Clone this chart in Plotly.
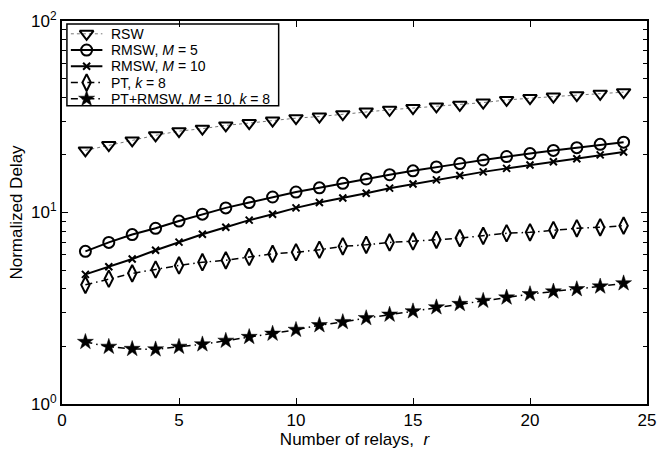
import plotly.graph_objects as go

# Number of relays
relays = list(range(1, 25))

# Normalized delay per scheme
rsw = [21.1, 22.5, 23.8, 25.3, 26.6, 27.4, 28.5, 29.3, 30.2, 31.1, 31.7, 32.6,
       33.7, 34.4, 35.1, 35.8, 36.5, 37.5, 38.7, 39.6, 40.3, 41.0, 41.7, 42.5]
rmsw_m5 = [6.27, 6.98, 7.67, 8.27, 9.02, 9.80, 10.57, 11.27, 12.05, 12.79, 13.45, 14.2,
           14.97, 15.75, 16.5, 17.3, 18.0, 18.8, 19.6, 20.3, 21.1, 21.8, 22.7, 23.3]
rmsw_m10 = [4.75, 5.21, 5.72, 6.35, 7.0, 7.7, 8.37, 9.12, 9.8, 10.57, 11.27, 11.9,
            12.6, 13.4, 14.1, 14.8, 15.6, 16.3, 17.0, 17.7, 18.4, 19.1, 20.0, 20.7]
pt_k8 = [4.19, 4.51, 4.81, 5.04, 5.29, 5.5, 5.63, 5.86, 6.08, 6.2, 6.39, 6.66,
         6.78, 6.98, 7.06, 7.2, 7.35, 7.55, 7.79, 7.88, 8.1, 8.27, 8.37, 8.54]
pt_rmsw = [2.11, 1.99, 1.94, 1.93, 1.99, 2.05, 2.14, 2.24, 2.33, 2.44, 2.58, 2.68,
           2.81, 2.93, 3.05, 3.2, 3.33, 3.46, 3.6, 3.75, 3.87, 3.98, 4.11, 4.27]

names = ["RSW", "RMSW, <i>M</i> = 5", "RMSW, <i>M</i> = 10", "PT, <i>k</i> = 8",
         "PT+RMSW, <i>M</i> = 10, <i>k</i> = 8"]

y_tickvals = [1, 10, 100]
y_ticktext = ["10<sup>0</sup>", "10<sup>1</sup>", "10<sup>2</sup>"]
y_minor = [2, 3, 4, 5, 6, 7, 8, 9, 20, 30, 40, 50, 60, 70, 80, 90]
x_tickvals = [0, 5, 10, 15, 20, 25]

dashdot = "7px,4px,1.5px,4px"

# Line and marker style of each series (same order as names)
styles = [
    dict(line=dict(color="#777777", width=1, dash="dot"),
         marker=dict(symbol="triangle-down-open", size=12, color="black",
                     line=dict(color="black", width=2))),
    dict(line=dict(color="black", width=2),
         marker=dict(symbol="circle-open", size=11, color="black",
                     line=dict(color="black", width=2))),
    dict(line=dict(color="black", width=2),
         marker=dict(symbol="x-thin-open", size=7, color="black",
                     line=dict(color="black", width=2))),
    dict(line=dict(color="black", width=1.5, dash=dashdot),
         marker=dict(symbol="diamond-tall-open", size=12, color="black",
                     line=dict(color="black", width=2))),
    dict(line=dict(color="black", width=1.5, dash=dashdot),
         marker=dict(symbol="star", size=12, color="black",
                     line=dict(color="black", width=0.5))),
]
series = [rsw, rmsw_m5, rmsw_m10, pt_k8, pt_rmsw]

fig = go.Figure()

for name, values, st in zip(names, series, styles):
    fig.add_trace(go.Scatter(
        x=relays, y=values, name=name, mode="lines+markers",
        line=st["line"], marker=st["marker"], showlegend=False,
    ))

# Plot-area size in pixels, used by the pixel-based legend overlay
margin = dict(l=62, r=9, t=15, b=51)
fig_w, fig_h = 665, 455
area_w = fig_w - margin["l"] - margin["r"]
area_h = fig_h - margin["t"] - margin["b"]

# Compact legend box in the upper-left corner (pixel offsets inside plot area)
box_x0, box_x1, box_y0, box_y1 = 5, 220, 3, 86
row_y = [13, 29.5, 46, 62.5, 79]
sample_x0, sample_mid, sample_x1, text_x = 9, 25, 41, 48

fig.add_shape(type="rect", xref="x2", yref="y2",
              x0=box_x0, x1=box_x1, y0=box_y0, y1=box_y1,
              line=dict(color="black", width=1.5), fillcolor="white", layer="below")

font_family = "Liberation Sans, Arial, Helvetica, sans-serif"

for name, st, ry in zip(names, styles, row_y):
    fig.add_trace(go.Scatter(
        x=[sample_x0, sample_x1], y=[ry, ry], mode="lines", line=st["line"],
        xaxis="x2", yaxis="y2", showlegend=False, hoverinfo="skip",
    ))
    fig.add_trace(go.Scatter(
        x=[sample_mid], y=[ry], mode="markers", marker=st["marker"],
        xaxis="x2", yaxis="y2", showlegend=False, hoverinfo="skip",
    ))
    fig.add_annotation(
        x=text_x, y=ry, xref="x2", yref="y2", text=name, showarrow=False,
        xanchor="left", yanchor="middle",
        font=dict(family=font_family, size=14, color="black"),
    )

fig.update_layout(
    width=fig_w, height=fig_h,
    margin=margin,
    paper_bgcolor="white", plot_bgcolor="white",
    font=dict(family=font_family, size=17, color="black"),
    showlegend=False,
    xaxis=dict(
        range=[0, 25], tickvals=x_tickvals, ticks="inside", ticklen=6,
        tickwidth=1, tickcolor="black",
        showline=True, linecolor="black", linewidth=2, mirror="allticks",
        showgrid=False, zeroline=False,
        tickfont=dict(size=17),
        title=dict(text="Number of relays,  <i>r</i>", font=dict(size=17), standoff=0),
    ),
    yaxis=dict(
        type="log", range=[0, 2], tickvals=y_tickvals, ticktext=y_ticktext,
        ticks="inside", ticklen=6, tickwidth=1, tickcolor="black",
        minor=dict(tickvals=y_minor, ticks="inside", ticklen=4, tickwidth=1,
                   tickcolor="black", showgrid=False),
        showline=True, linecolor="black", linewidth=2, mirror="allticks",
        showgrid=False, zeroline=False,
        tickfont=dict(size=17),
        title=dict(text="Normalized Delay", font=dict(size=17), standoff=4),
    ),
    xaxis2=dict(overlaying="x", range=[0, area_w], visible=False, fixedrange=True),
    yaxis2=dict(overlaying="y", range=[area_h, 0], visible=False, fixedrange=True),
)

fig.write_html("out.html")
